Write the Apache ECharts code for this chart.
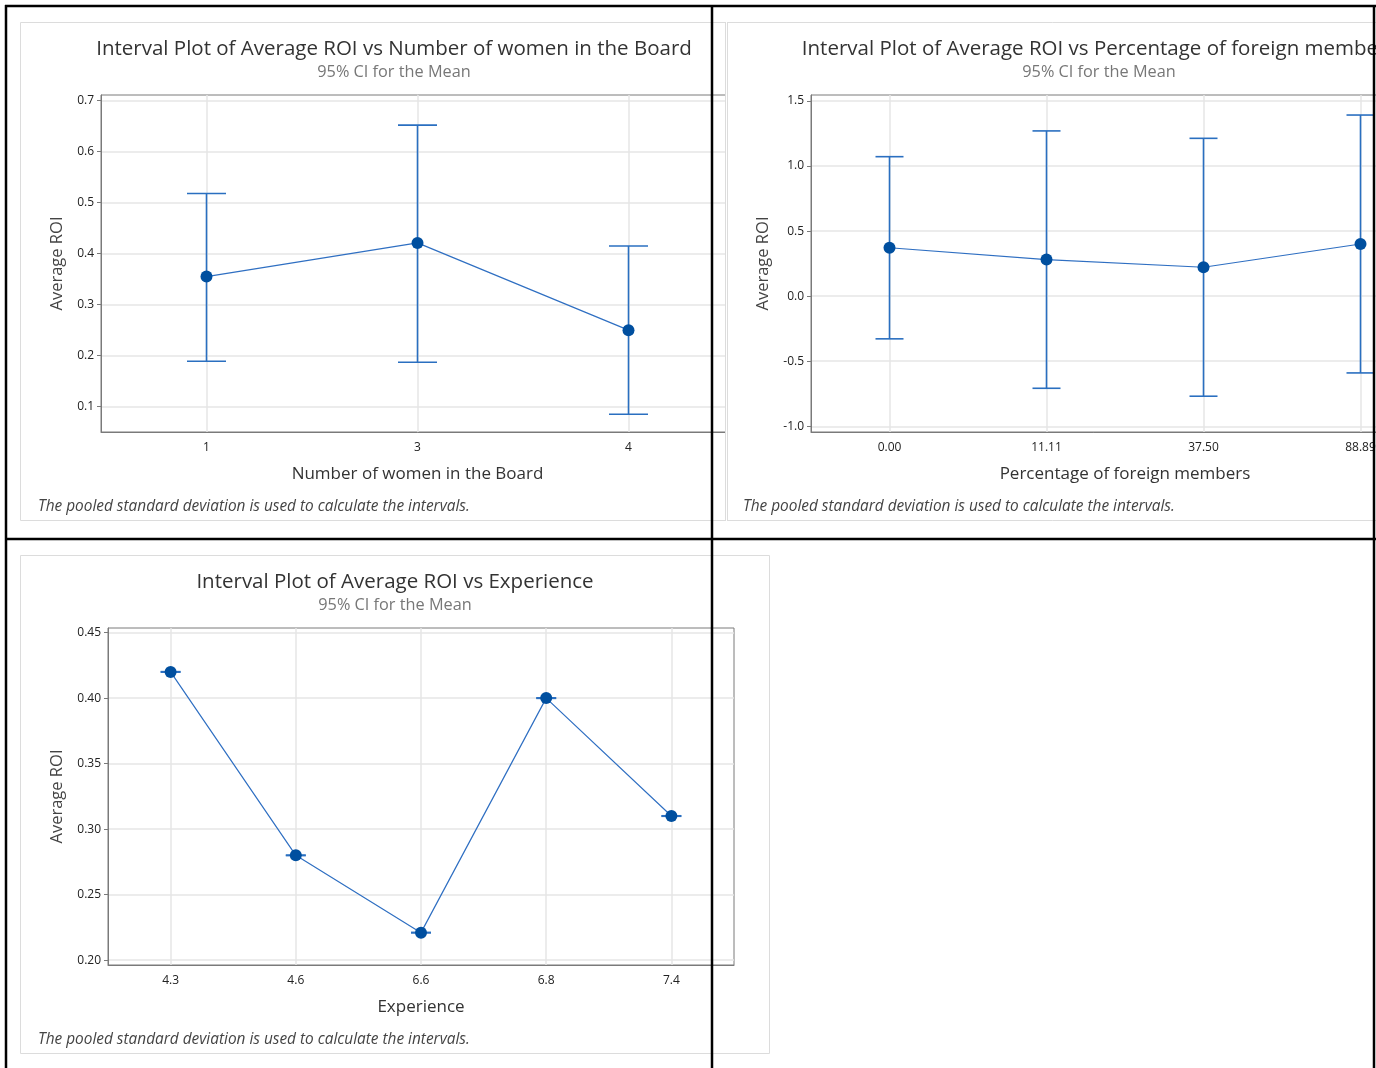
<!DOCTYPE html>
<html><head><meta charset="utf-8">
<script src="https://cdn.jsdelivr.net/npm/echarts@6/dist/echarts.min.js"></script>
<style>html,body{margin:0;padding:0;background:#fff}#c{width:1376px;height:1068px}</style>
</head><body><div id="c"></div><script>
// ---- data ----
const womenCats = ['1', '3', '4'];
const womenMean = [0.355, 0.421, 0.250];
const womenLow  = [0.189, 0.187, 0.085];
const womenHigh = [0.518, 0.652, 0.415];

const foreignCats = ['0.00', '11.11', '37.50', '88.89'];
const foreignMean = [0.372, 0.281, 0.222, 0.401];
const foreignLow  = [-0.328, -0.708, -0.769, -0.590];
const foreignHigh = [1.072, 1.270, 1.213, 1.392];

const expCats = ['4.3', '4.6', '6.6', '6.8', '7.4'];
const expMean = [0.420, 0.280, 0.221, 0.400, 0.310];
const expLow  = [0.4198, 0.2798, 0.2208, 0.3998, 0.3098];
const expHigh = [0.4202, 0.2802, 0.2212, 0.4002, 0.3102];

const womenTicks   = [0.1, 0.2, 0.3, 0.4, 0.5, 0.6, 0.7];
const foreignTicks = [-1.0, -0.5, 0.0, 0.5, 1.0, 1.5];
const expTicks     = [0.20, 0.25, 0.30, 0.35, 0.40, 0.45];

const titles = [
  'Interval Plot of Average ROI vs Number of women in the Board',
  'Interval Plot of Average ROI vs Percentage of foreign members',
  'Interval Plot of Average ROI vs Experience'
];
const subtitle = '95% CI for the Mean';
const footnote = 'The pooled standard deviation is used to calculate the intervals.';
const xNames = ['Number of women in the Board', 'Percentage of foreign members', 'Experience'];
const yName = 'Average ROI';

// ---- style ----
const FONT = '"Open Sans", "Noto Sans", sans-serif';
const AXC = '#7a7a7a', GRIDC = '#e6e6e6', BARC = '#2a6fc0', LINEC = '#2f6fc2', DOTC = '#004f9f';

function xAx(gi, cats, name, gap) {
  return {
    type: 'category', gridIndex: gi, data: cats, boundaryGap: true,
    axisLine: { onZero: false, lineStyle: { color: AXC } },
    axisTick: { alignWithLabel: true, length: 4, lineStyle: { color: AXC } },
    axisLabel: { color: '#222', fontSize: 12, fontFamily: FONT, margin: 10 },
    splitLine: { show: false },
    name: name, nameLocation: 'middle', nameGap: gap,
    nameTextStyle: { color: '#333', fontSize: 17, fontFamily: FONT }
  };
}
function yAx(gi, min, max, ticks, dec, gap) {
  return {
    type: 'value', gridIndex: gi, min: min, max: max,
    axisLine: { show: true, onZero: false, lineStyle: { color: AXC } },
    axisTick: { show: true, length: 4, customValues: ticks, lineStyle: { color: AXC } },
    axisLabel: { customValues: ticks, formatter: v => Number(v).toFixed(dec), color: '#222', fontSize: 12, fontFamily: FONT, margin: 7 },
    splitLine: { show: true, lineStyle: { color: GRIDC, width: 1.5 } },
    name: yName, nameLocation: 'middle', nameGap: gap,
    nameTextStyle: { color: '#444', fontSize: 16.5, fontFamily: FONT }
  };
}
function errSeries(idx, cats, lo, hi, half) {
  return {
    type: 'custom', xAxisIndex: idx, yAxisIndex: idx, z: 3, silent: true,
    data: cats.map((c, i) => [i, lo[i], hi[i]]),
    encode: { x: 0, y: [1, 2] },
    renderItem: function (p, api) {
      const i = api.value(0);
      const a = api.coord([i, api.value(1)]);
      const b = api.coord([i, api.value(2)]);
      const st = { stroke: BARC, lineWidth: 1.6 };
      return { type: 'group', children: [
        { type: 'line', shape: { x1: a[0], y1: a[1], x2: b[0], y2: b[1] }, style: st },
        { type: 'line', shape: { x1: a[0] - half, y1: a[1], x2: a[0] + half, y2: a[1] }, style: st },
        { type: 'line', shape: { x1: b[0] - half, y1: b[1], x2: b[0] + half, y2: b[1] }, style: st }
      ] };
    }
  };
}
function lineSeries(idx, mean) {
  return {
    type: 'line', xAxisIndex: idx, yAxisIndex: idx, z: 4, data: mean,
    symbol: 'circle', symbolSize: 12, showSymbol: true,
    itemStyle: { color: DOTC }, lineStyle: { color: LINEC, width: 1.2 }
  };
}
function vGrid(idx, cats, mean) {
  return {
    type: 'line', xAxisIndex: idx, yAxisIndex: idx, z: 1, data: mean, silent: true,
    symbol: 'none', lineStyle: { opacity: 0 },
    markLine: { z: 1, silent: true, symbol: ['none', 'none'], label: { show: false },
      lineStyle: { color: GRIDC, width: 1.5, type: 'solid' },
      data: cats.map(c => ({ xAxis: c })) }
  };
}
function txt(text, x, y, size, color, opts) {
  opts = opts || {};
  return { type: 'text', z: 60, style: {
    text: text, x: x, y: y, align: opts.align || 'center', verticalAlign: 'middle',
    fontSize: size, fontFamily: FONT, fontStyle: opts.italic ? 'italic' : 'normal',
    fontWeight: opts.weight || 'normal', fill: color } };
}
function box(x, y, w, h) {
  return { type: 'rect', z: 0, shape: { x: x, y: y, width: w, height: h },
    style: { fill: 'none', stroke: '#dcdcdc', lineWidth: 1 } };
}
function blk(x1, y1, x2, y2) {
  return { type: 'line', z: 100, shape: { x1: x1, y1: y1, x2: x2, y2: y2 },
    style: { stroke: '#000', lineWidth: 2.5 } };
}

const option = {
  animation: false,
  backgroundColor: '#fff',
  grid: [
    { left: 101, top: 95, width: 633, height: 337, outerBoundsMode: 'none', containLabel: false, show: true, borderColor: AXC, borderWidth: 1, backgroundColor: 'transparent' },
    { left: 811, top: 95, width: 628, height: 337, outerBoundsMode: 'none', containLabel: false, show: true, borderColor: AXC, borderWidth: 1, backgroundColor: 'transparent' },
    { left: 108, top: 628, width: 626, height: 337, outerBoundsMode: 'none', containLabel: false, show: true, borderColor: AXC, borderWidth: 1, backgroundColor: 'transparent' }
  ],
  xAxis: [
    xAx(0, womenCats, xNames[0], 34),
    xAx(1, foreignCats, xNames[1], 34),
    xAx(2, expCats, xNames[2], 34)
  ],
  yAxis: [
    yAx(0, 0.0503, 0.711, womenTicks, 1, 35),
    yAx(1, -1.044, 1.546, foreignTicks, 1, 39),
    yAx(2, 0.1963, 0.4535, expTicks, 2, 42)
  ],
  series: [
    vGrid(0, womenCats, womenMean), errSeries(0, womenCats, womenLow, womenHigh, 19.5), lineSeries(0, womenMean),
    vGrid(1, foreignCats, foreignMean), errSeries(1, foreignCats, foreignLow, foreignHigh, 14), lineSeries(1, foreignMean),
    vGrid(2, expCats, expMean), errSeries(2, expCats, expLow, expHigh, 10), lineSeries(2, expMean)
  ],
  graphic: { elements: [
    box(20.5, 22.5, 705, 498),
    box(727.5, 22.5, 700, 498),
    box(20.5, 555.5, 749, 498),
    // cover the part of panel 1 that falls under panel 2
    { type: 'rect', z: 50, shape: { x: 726, y: 85, width: 20, height: 360 }, style: { fill: '#fff' } },
    { type: 'line', z: 51, shape: { x1: 725.5, y1: 22, x2: 725.5, y2: 521 }, style: { stroke: '#dcdcdc', lineWidth: 1 } },
    { type: 'line', z: 51, shape: { x1: 727.5, y1: 22, x2: 727.5, y2: 521 }, style: { stroke: '#dcdcdc', lineWidth: 1 } },
    txt(titles[0], 394, 49, 20.5, '#333'),
    txt(subtitle, 394, 72, 16.3, '#777'),
    txt(titles[1], 1099, 49, 20.5, '#333'),
    txt(subtitle, 1099, 72, 16.3, '#777'),
    txt(titles[2], 395, 582, 20.5, '#333'),
    txt(subtitle, 395, 605, 16.3, '#777'),
    txt(footnote, 38, 507, 15.4, '#444', { align: 'left', italic: true }),
    txt(footnote, 743, 507, 15.4, '#444', { align: 'left', italic: true }),
    txt(footnote, 38, 1040, 15.4, '#444', { align: 'left', italic: true }),
    blk(5, 6, 1376, 6),
    blk(6, 5, 6, 1068),
    blk(712, 5, 712, 1068),
    blk(5, 539, 1376, 539),
    blk(1374, 5, 1374, 1068)
  ] }
};
const chart = echarts.init(document.getElementById('c'), null, { renderer: 'canvas' });
chart.setOption(option);
</script></body></html>
